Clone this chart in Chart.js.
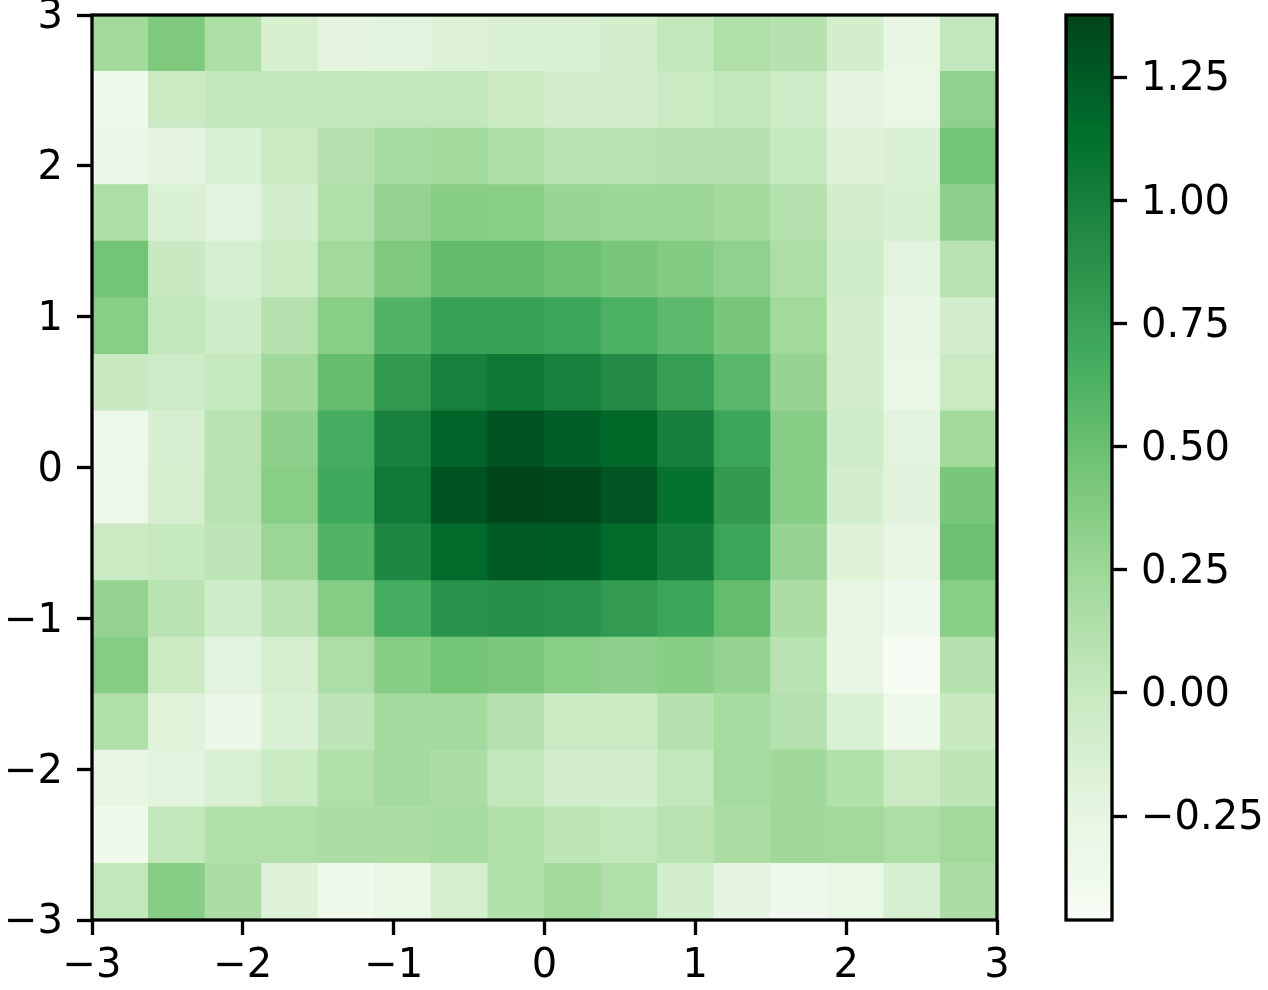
<!DOCTYPE html>
<html>
<head>
<meta charset="utf-8">
<script src="https://cdn.jsdelivr.net/npm/chart.js@4/dist/chart.umd.min.js"></script>
<style>
  html, body { margin: 0; padding: 0; background: #fff; }
  #wrap { position: relative; width: 1268px; height: 990px; }
  #heat { position: absolute; left: 0; top: 0; }
  #cbar { position: absolute; left: 1040px; top: 0; }
</style>
</head>
<body>
<div id="wrap">
  <canvas id="heat" width="1268" height="990"></canvas>
  <canvas id="cbar" width="228" height="990"></canvas>
</div>
<script>
// grid edges (16 x 16 cells from -3 to 3)
const xEdges = [-3, -2.625, -2.25, -1.875, -1.5, -1.125, -0.75, -0.375, 0, 0.375, 0.75, 1.125, 1.5, 1.875, 2.25, 2.625, 3];
const yEdges = [3, 2.625, 2.25, 1.875, 1.5, 1.125, 0.75, 0.375, 0, -0.375, -0.75, -1.125, -1.5, -1.875, -2.25, -2.625, -3];
const axisTicks = [-3, -2, -1, 0, 1, 2, 3];
const cbarTicks = [-0.25, 0, 0.25, 0.5, 0.75, 1.0, 1.25];

// cell values, rows listed from top (y=3) to bottom (y=-3)
const zRows = [
  [0.22, 0.40, 0.16, -0.11, -0.23, -0.21, -0.17, -0.15, -0.15, -0.09, 0.03, 0.14, 0.10, -0.09, -0.28, 0.02],
  [-0.36, -0.03, 0.03, 0.03, 0.03, 0.03, 0.03, -0.03, -0.09, -0.09, -0.02, 0.03, -0.05, -0.24, -0.29, 0.31],
  [-0.31, -0.23, -0.15, -0.03, 0.11, 0.19, 0.22, 0.16, 0.09, 0.08, 0.11, 0.11, 0.00, -0.18, -0.15, 0.46],
  [0.16, -0.15, -0.21, -0.09, 0.13, 0.29, 0.36, 0.35, 0.27, 0.25, 0.25, 0.22, 0.11, -0.09, -0.12, 0.32],
  [0.46, -0.01, -0.12, -0.02, 0.22, 0.40, 0.54, 0.54, 0.49, 0.43, 0.38, 0.31, 0.16, -0.05, -0.21, 0.09],
  [0.35, 0.03, -0.05, 0.11, 0.35, 0.61, 0.76, 0.76, 0.73, 0.64, 0.56, 0.43, 0.22, -0.09, -0.27, -0.09],
  [-0.01, -0.05, 0.01, 0.23, 0.52, 0.81, 1.00, 1.06, 1.00, 0.92, 0.78, 0.58, 0.28, -0.08, -0.29, -0.02],
  [-0.33, -0.12, 0.09, 0.32, 0.67, 1.00, 1.20, 1.30, 1.23, 1.17, 1.01, 0.73, 0.36, -0.05, -0.21, 0.22],
  [-0.33, -0.10, 0.09, 0.35, 0.70, 1.05, 1.30, 1.376, 1.36, 1.28, 1.11, 0.81, 0.36, -0.09, -0.20, 0.43],
  [-0.03, 0.00, 0.05, 0.26, 0.61, 0.95, 1.16, 1.25, 1.24, 1.16, 1.02, 0.73, 0.28, -0.17, -0.28, 0.49],
  [0.30, 0.08, -0.06, 0.08, 0.37, 0.67, 0.86, 0.89, 0.86, 0.80, 0.73, 0.53, 0.17, -0.26, -0.37, 0.35],
  [0.37, -0.03, -0.21, -0.10, 0.15, 0.36, 0.46, 0.42, 0.35, 0.33, 0.36, 0.29, 0.08, -0.27, -0.461, 0.11],
  [0.14, -0.19, -0.31, -0.15, 0.05, 0.21, 0.21, 0.11, -0.02, -0.02, 0.11, 0.19, 0.11, -0.14, -0.35, -0.01],
  [-0.26, -0.21, -0.14, -0.02, 0.14, 0.21, 0.17, 0.03, -0.09, -0.09, 0.02, 0.20, 0.23, 0.12, -0.03, 0.06],
  [-0.36, 0.03, 0.13, 0.14, 0.17, 0.17, 0.19, 0.13, 0.06, 0.03, 0.09, 0.17, 0.23, 0.22, 0.16, 0.22],
  [0.03, 0.36, 0.17, -0.17, -0.36, -0.29, -0.10, 0.12, 0.22, 0.14, -0.08, -0.24, -0.37, -0.29, -0.12, 0.17]
];

// matplotlib "Greens"
const greens = ['#f7fcf5', '#e5f5e0', '#c7e9c0', '#a1d99b', '#74c476', '#41ab5d', '#238b45', '#006d2c', '#00441b'];

const allZ = zRows.flat();
const vmin = Math.min(...allZ);
const vmax = Math.max(...allZ);

const FONT = { family: 'DejaVu Sans', size: 40 };
const LW = 3.3;

function hexToRgb(h) {
    return [parseInt(h.slice(1, 3), 16), parseInt(h.slice(3, 5), 16), parseInt(h.slice(5, 7), 16)];
}
const greenRgb = greens.map(hexToRgb);

function colorFor(v) {
    let t = (v - vmin) / (vmax - vmin);
    t = Math.max(0, Math.min(1, t));
    const pos = t * (greenRgb.length - 1);
    const i = Math.min(Math.floor(pos), greenRgb.length - 2);
    const f = pos - i;
    const a = greenRgb[i], b = greenRgb[i + 1];
    const c = a.map((x, k) => Math.round(x + (b[k] - x) * f));
    return `rgb(${c[0]},${c[1]},${c[2]})`;
}

function fmt(v, digits) {
    const s = Math.abs(v).toFixed(digits);
    return v < 0 ? '\u2212' + s : s;
}

// black frame round the plot area (spines)
const framePlugin = {
    id: 'frame',
    afterDraw(chart) {
        const { ctx, chartArea: a } = chart;
        ctx.save();
        ctx.strokeStyle = '#000';
        ctx.lineWidth = LW;
        ctx.strokeRect(a.left, a.top, a.right - a.left, a.bottom - a.top);
        ctx.restore();
    }
};

// keep tick labels from pushing the plot area around
function fixV(width) {
    return s => { s.width = width; s.paddingTop = 0; s.paddingBottom = 0; };
}
function fixH(height) {
    return s => { s.height = height; s.paddingLeft = 0; s.paddingRight = 0; };
}

// cell centres
const cells = [];
zRows.forEach((row, r) => {
    row.forEach((v, c) => {
        cells.push({
            x: (xEdges[c] + xEdges[c + 1]) / 2,
            y: (yEdges[r] + yEdges[r + 1]) / 2,
            v: v
        });
    });
});

function cellRadius(ctx) {
    const xs = ctx.chart.scales.x;
    if (!xs) return 20;
    const side = Math.abs(xs.getPixelForValue(xEdges[1]) - xs.getPixelForValue(xEdges[0]));
    return (side + 1) / Math.SQRT2;
}

new Chart(document.getElementById('heat'), {
    type: 'scatter',
    data: {
        datasets: [{
            data: cells,
            pointStyle: 'rect',
            pointRadius: cellRadius,
            pointBorderWidth: 0,
            pointBackgroundColor: ctx => colorFor(ctx.raw ? ctx.raw.v : 0),
            clip: 0
        }]
    },
    options: {
        responsive: false,
        animation: false,
        events: [],
        layout: { padding: { left: 0, top: 15, right: 271, bottom: 0 } },
        plugins: { legend: { display: false }, tooltip: { enabled: false } },
        scales: {
            x: {
                type: 'linear',
                min: -3, max: 3,
                afterBuildTicks: s => { s.ticks = axisTicks.map(v => ({ value: v })); },
                afterFit: fixH(70),
                border: { display: false },
                grid: { drawOnChartArea: false, drawTicks: true, tickLength: 15, tickWidth: LW, tickColor: '#000' },
                ticks: { color: '#000', font: FONT, padding: 8, maxRotation: 0, callback: v => fmt(v, 0) }
            },
            y: {
                type: 'linear',
                min: -3, max: 3,
                afterBuildTicks: s => { s.ticks = axisTicks.map(v => ({ value: v })); },
                afterFit: fixV(92),
                border: { display: false },
                grid: { drawOnChartArea: false, drawTicks: true, tickLength: 15, tickWidth: LW, tickColor: '#000' },
                ticks: { color: '#000', font: FONT, padding: 14, labelOffset: 3, callback: v => fmt(v, 0) }
            }
        }
    },
    plugins: [framePlugin]
});

// colour bar
new Chart(document.getElementById('cbar'), {
    type: 'bar',
    data: {
        labels: ['z'],
        datasets: [{
            data: [[vmin, vmax]],
            barPercentage: 1,
            categoryPercentage: 1,
            borderWidth: 0,
            backgroundColor: ctx => {
                const chart = ctx.chart;
                const ys = chart.scales.y;
                if (!chart.chartArea || !ys) return greens[4];
                const g = chart.ctx.createLinearGradient(0, ys.getPixelForValue(vmin), 0, ys.getPixelForValue(vmax));
                greens.forEach((c, i) => g.addColorStop(i / (greens.length - 1), c));
                return g;
            }
        }]
    },
    options: {
        responsive: false,
        animation: false,
        events: [],
        layout: { padding: { left: 26, top: 15, right: 0, bottom: 70 } },
        plugins: { legend: { display: false }, tooltip: { enabled: false } },
        scales: {
            x: { display: false },
            y: {
                position: 'right',
                min: vmin, max: vmax,
                afterBuildTicks: s => { s.ticks = cbarTicks.map(v => ({ value: v })); },
                afterFit: fixV(156),
                border: { display: false },
                grid: { drawOnChartArea: false, drawTicks: true, tickLength: 15, tickWidth: LW, tickColor: '#000' },
                ticks: { color: '#000', font: FONT, padding: 14, labelOffset: 3, callback: v => fmt(v, 2) }
            }
        }
    },
    plugins: [framePlugin]
});
</script>
</body>
</html>
